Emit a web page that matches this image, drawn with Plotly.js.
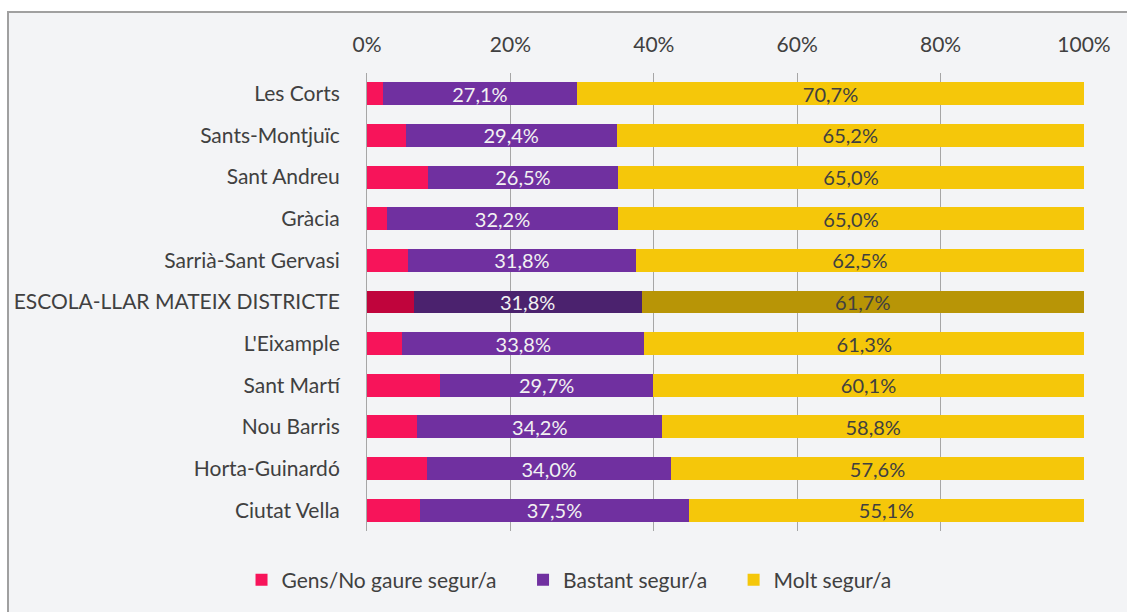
<!DOCTYPE html>
<html>
<head>
<meta charset="utf-8">
<script src="https://cdn.plot.ly/plotly-3.0.1.min.js"></script>
<style>
  html, body { margin: 0; padding: 0; background: #ffffff; }
  #plot { width: 1127px; height: 612px; }
</style>
</head>
<body>
<div id="plot"></div>
<script>
// Data
var districtes = ["Les Corts", "Sants-Montjuïc", "Sant Andreu", "Gràcia", "Sarrià-Sant Gervasi",
  "ESCOLA-LLAR MATEIX DISTRICTE", "L'Eixample", "Sant Martí", "Nou Barris", "Horta-Guinardó", "Ciutat Vella"];
var gens = [2.2, 5.4, 8.5, 2.8, 5.7, 6.5, 4.9, 10.2, 7.0, 8.4, 7.4];
var bastant = [27.1, 29.4, 26.5, 32.2, 31.8, 31.8, 33.8, 29.7, 34.2, 34.0, 37.5];
var molt = [70.7, 65.2, 65.0, 65.0, 62.5, 61.7, 61.3, 60.1, 58.8, 57.6, 55.1];
var seriesNames = ["Gens/No gaure segur/a", "Bastant segur/a", "Molt segur/a"];

// colours: normal rows and the highlighted total row
var colorsNormal = ["#F7145A", "#7030A0", "#F5C70A"];
var colorsTotal = ["#C0043C", "#4B226E", "#B89506"];
var highlight = "ESCOLA-LLAR MATEIX DISTRICTE";

function colorsFor(i) {
  return districtes.map(function (d) { return d === highlight ? colorsTotal[i] : colorsNormal[i]; });
}

var font = "Lato, 'Open Sans', sans-serif";
var pad = "\u00a0\u00a0\u00a0\u00a0"; // extra room between legend entries

var trace1 = {
  y: districtes, x: gens, name: seriesNames[0] + pad, type: "bar", orientation: "h",
  marker: {color: colorsFor(0)},
  hoverinfo: "x+name"
};
var trace2 = {
  y: districtes, x: bastant, name: seriesNames[1] + pad, type: "bar", orientation: "h",
  marker: {color: colorsFor(1)},
  texttemplate: "%{x:.1f}%", textposition: "inside", insidetextanchor: "middle",
  constraintext: "none",
  textfont: {color: "#F2F2F2", size: 20, family: font},
  hoverinfo: "x+name"
};
var trace3 = {
  y: districtes, x: molt, name: seriesNames[2], type: "bar", orientation: "h",
  marker: {color: colorsFor(2)},
  texttemplate: "%{x:.1f}%", textposition: "inside", insidetextanchor: "middle",
  constraintext: "none",
  textfont: {color: "#404040", size: 20, family: font},
  hoverinfo: "x+name"
};

var data = [trace1, trace2, trace3];

// plot area in pixels: x 367..1084, y 73..531
var layout = {
  width: 1127, height: 612,
  margin: {l: 367, r: 43, t: 73, b: 81},
  barmode: "stack",
  bargap: 0.45,
  separators: ",.",
  uniformtext: {mode: false},
  font: {family: font, color: "#404040", size: 21},
  paper_bgcolor: "#ffffff",
  plot_bgcolor: "#F3F4F6",
  showlegend: true,
  legend: {
    orientation: "h", x: -0.175, xanchor: "left", y: -0.107, yanchor: "middle",
    font: {size: 21, color: "#404040"}, bgcolor: "rgba(0,0,0,0)", traceorder: "normal"
  },
  xaxis: {
    side: "top", range: [0, 100], dtick: 20, ticksuffix: "%",
    showgrid: true, gridcolor: "#A6A6A6", gridwidth: 1, zeroline: false,
    ticks: "", ticklabelstandoff: 16, fixedrange: true,
    tickfont: {size: 21, color: "#404040"}
  },
  yaxis: {
    autorange: "reversed", showline: true, linecolor: "#A6A6A6", linewidth: 1,
    ticks: "", ticklabelstandoff: 22, fixedrange: true,
    tickfont: {size: 21, color: "#404040"}
  },
  shapes: [{
    type: "rect", xref: "paper", yref: "paper", layer: "below",
    x0: (8 - 367) / 717, x1: (1135 - 367) / 717,
    y0: (531 - 620) / 458, y1: (531 - 12) / 458,
    fillcolor: "#F3F4F6", line: {color: "#A0A0A0", width: 2}
  }]
};

Plotly.newPlot("plot", data, layout, {displayModeBar: false});
</script>
</body>
</html>
